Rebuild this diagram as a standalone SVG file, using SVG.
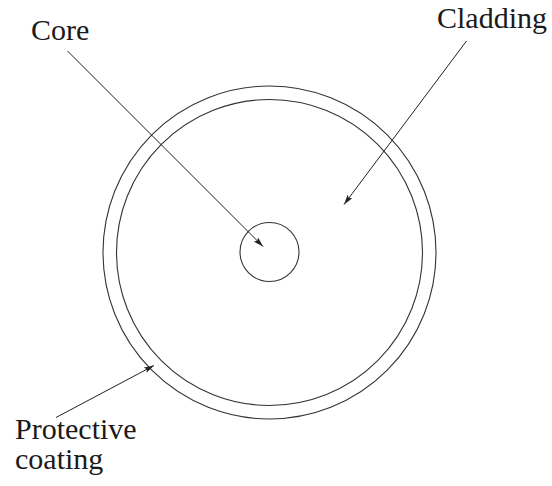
<svg xmlns="http://www.w3.org/2000/svg" width="552" height="486" viewBox="0 0 552 486">
<style>
.ring{fill:none;stroke:#333;stroke-width:1.1}
.lead{fill:none;stroke:#222;stroke-width:1}
.lbl{font-family:"Liberation Serif","Times New Roman",serif;font-size:30px;fill:#1a1a1a}
</style>
<defs>
<marker id="ah" viewBox="0 0 10 6" refX="10" refY="3" markerWidth="10" markerHeight="6" markerUnits="userSpaceOnUse" orient="auto">
<path d="M0,0 L10,3 L0,6 L2,3 Z" fill="#222"/>
</marker>
</defs>
<rect width="552" height="486" fill="#fff"/>
<g id="coating-ring"><circle class="ring" cx="269.5" cy="252.5" r="166.5"/></g>
<g id="cladding-ring"><circle class="ring" cx="269.5" cy="252.5" r="153"/></g>
<g id="core-circle"><circle class="ring" cx="269.5" cy="252" r="29.5"/></g>
<g id="connectors">
<line class="lead" x1="67.5" y1="51" x2="263" y2="246.5" marker-end="url(#ah)"/>
<line class="lead" x1="466.5" y1="41" x2="344" y2="204.5" marker-end="url(#ah)"/>
<line class="lead" x1="56" y1="417.5" x2="154" y2="365.5" marker-end="url(#ah)"/>
</g>
<g id="label-core"><text class="lbl" x="31" y="40">Core</text></g>
<g id="label-cladding"><text class="lbl" x="437" y="28">Cladding</text></g>
<g id="label-protective"><text class="lbl" x="15" y="439">Protective</text><text class="lbl" x="15" y="469">coating</text></g>
</svg>
